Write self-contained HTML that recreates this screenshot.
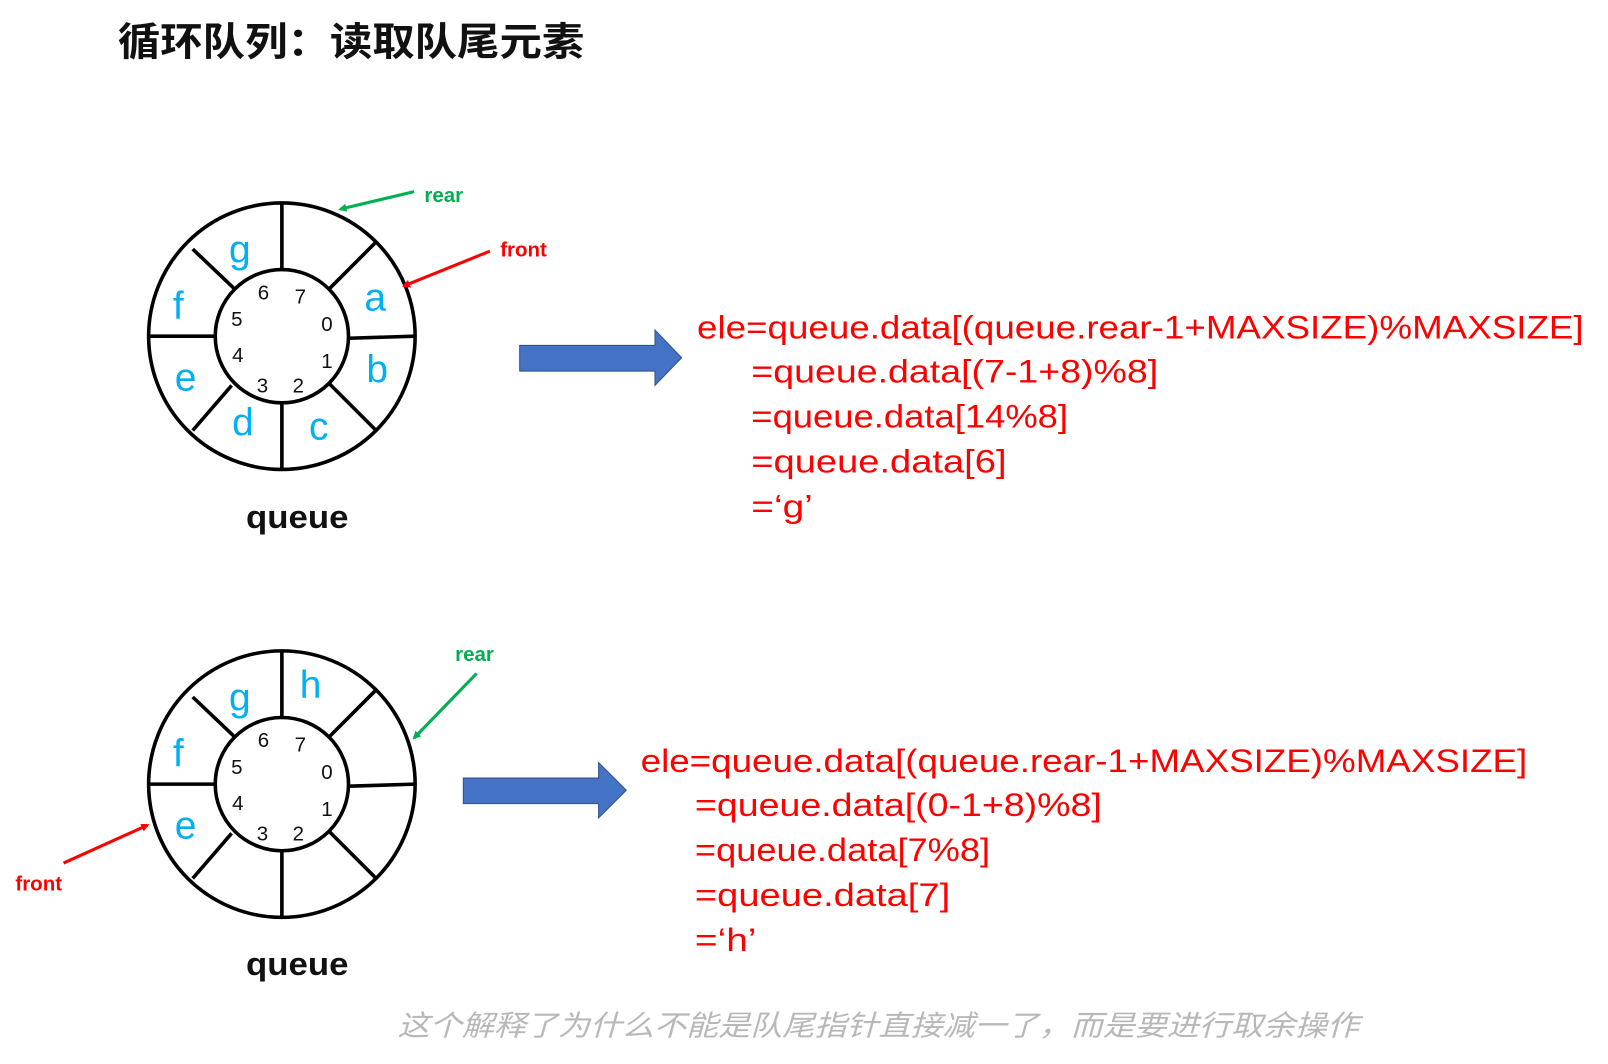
<!DOCTYPE html>
<html><head><meta charset="utf-8"><style>
html,body{margin:0;padding:0;background:#fff;}
svg{display:block;}
.t{font-family:"Liberation Sans","Noto Sans CJK SC",sans-serif;}
</style></head><body>
<svg width="1608" height="1064" viewBox="0 0 1608 1064" xmlns="http://www.w3.org/2000/svg">
<defs>
<marker id="ag" markerWidth="8" markerHeight="8" refX="6" refY="4" orient="auto" markerUnits="userSpaceOnUse"><path d="M0,0 L8,4 L0,8 z" fill="#00b050"/></marker>
<marker id="ar" markerWidth="8" markerHeight="8" refX="6" refY="4" orient="auto" markerUnits="userSpaceOnUse"><path d="M0,0 L8,4 L0,8 z" fill="#ff0000"/></marker>
</defs>
<g transform="scale(1.025)">
<text class="t" x="115" y="54" font-size="38" font-weight="bold" fill="#111" textLength="455" lengthAdjust="spacingAndGlyphs">循环队列：读取队尾元素</text>

<g stroke="#000" stroke-width="3.5" fill="none">
<circle cx="275" cy="328" r="130"/>
<circle cx="275" cy="328" r="65"/>
<line x1="275" y1="198" x2="275" y2="263"/>
<line x1="275" y1="393" x2="275" y2="458"/>
<line x1="145" y1="328" x2="210" y2="328"/>
<line x1="340" y1="330" x2="405" y2="328"/>
<line x1="321" y1="282" x2="367" y2="236"/>
<line x1="229" y1="282" x2="188" y2="243"/>
<line x1="321" y1="374" x2="367" y2="420"/>
<line x1="226" y1="376" x2="188" y2="420"/>
</g>
<g class="t" font-size="38" fill="#00b0f0" text-anchor="middle">
<text x="234" y="256">g</text><text x="366" y="303">a</text><text x="368" y="373">b</text>
<text x="311" y="429">c</text><text x="237" y="425">d</text><text x="181" y="381">e</text><text x="174" y="311">f</text>
</g>
<g class="t" font-size="20" fill="#111" text-anchor="middle">
<text x="257" y="292">6</text><text x="293" y="296">7</text><text x="319" y="323">0</text><text x="319" y="359">1</text>
<text x="291" y="383">2</text><text x="256" y="383">3</text><text x="232" y="353">4</text><text x="231" y="318">5</text>
</g>
<line x1="404" y1="187" x2="332" y2="204" stroke="#00b050" stroke-width="3" marker-end="url(#ag)"/>
<line x1="478" y1="245" x2="394" y2="279" stroke="#ff0000" stroke-width="3" marker-end="url(#ar)"/>
<text class="t" x="414" y="197" font-size="20" font-weight="bold" fill="#00b050">rear</text>
<text class="t" x="488" y="250" font-size="20" font-weight="bold" fill="#ff0000">front</text>
<text class="t" x="240" y="515" font-size="32" font-weight="bold" fill="#111" textLength="100" lengthAdjust="spacingAndGlyphs">queue</text>

<polygon points="507,337 639,337 639,322 665,349 639,376 639,362 507,362" fill="#4472c4" stroke="#2f528f" stroke-width="1"/>
<g class="t" font-size="32" fill="#ff0000">
<text x="680" y="330" textLength="865" lengthAdjust="spacingAndGlyphs">ele=queue.data[(queue.rear-1+MAXSIZE)%MAXSIZE]</text>
<text x="733" y="373" textLength="397" lengthAdjust="spacingAndGlyphs">=queue.data[(7-1+8)%8]</text>
<text x="733" y="417" textLength="309" lengthAdjust="spacingAndGlyphs">=queue.data[14%8]</text>
<text x="733" y="461" textLength="249" lengthAdjust="spacingAndGlyphs">=queue.data[6]</text>
<text x="733" y="505" textLength="60" lengthAdjust="spacingAndGlyphs">=‘g’</text>
</g>

<g stroke="#000" stroke-width="3.5" fill="none">
<circle cx="275" cy="765" r="130"/>
<circle cx="275" cy="765" r="65"/>
<line x1="275" y1="635" x2="275" y2="700"/>
<line x1="275" y1="830" x2="275" y2="895"/>
<line x1="145" y1="765" x2="210" y2="765"/>
<line x1="340" y1="767" x2="405" y2="765"/>
<line x1="321" y1="719" x2="367" y2="673"/>
<line x1="229" y1="719" x2="188" y2="680"/>
<line x1="321" y1="811" x2="367" y2="857"/>
<line x1="226" y1="813" x2="188" y2="857"/>
</g>
<g class="t" font-size="38" fill="#00b0f0" text-anchor="middle">
<text x="234" y="693">g</text><text x="303" y="681">h</text><text x="181" y="818">e</text><text x="174" y="748">f</text>
</g>
<g class="t" font-size="20" fill="#111" text-anchor="middle">
<text x="257" y="729">6</text><text x="293" y="733">7</text><text x="319" y="760">0</text><text x="319" y="796">1</text>
<text x="291" y="820">2</text><text x="256" y="820">3</text><text x="232" y="790">4</text><text x="231" y="755">5</text>
</g>
<line x1="465" y1="657" x2="404" y2="720" stroke="#00b050" stroke-width="3" marker-end="url(#ag)"/>
<line x1="62" y1="842" x2="144" y2="805" stroke="#ff0000" stroke-width="3" marker-end="url(#ar)"/>
<text class="t" x="444" y="645" font-size="20" font-weight="bold" fill="#00b050">rear</text>
<text class="t" x="15" y="869" font-size="20" font-weight="bold" fill="#ff0000">front</text>
<text class="t" x="240" y="951" font-size="32" font-weight="bold" fill="#111" textLength="100" lengthAdjust="spacingAndGlyphs">queue</text>

<polygon points="452,759 584,759 584,744 611,771 584,798 584,784 452,784" fill="#4472c4" stroke="#2f528f" stroke-width="1"/>
<g class="t" font-size="32" fill="#ff0000">
<text x="625" y="753" textLength="865" lengthAdjust="spacingAndGlyphs">ele=queue.data[(queue.rear-1+MAXSIZE)%MAXSIZE]</text>
<text x="678" y="796" textLength="397" lengthAdjust="spacingAndGlyphs">=queue.data[(0-1+8)%8]</text>
<text x="678" y="840" textLength="288" lengthAdjust="spacingAndGlyphs">=queue.data[7%8]</text>
<text x="678" y="884" textLength="249" lengthAdjust="spacingAndGlyphs">=queue.data[7]</text>
<text x="678" y="928" textLength="60" lengthAdjust="spacingAndGlyphs">=‘h’</text>
</g>

<text class="t" x="388" y="1010" font-size="28" font-style="italic" fill="#b8b8b8" textLength="938" lengthAdjust="spacingAndGlyphs">这个解释了为什么不能是队尾指针直接减一了，而是要进行取余操作</text>
</g>
</svg>
</body></html>
